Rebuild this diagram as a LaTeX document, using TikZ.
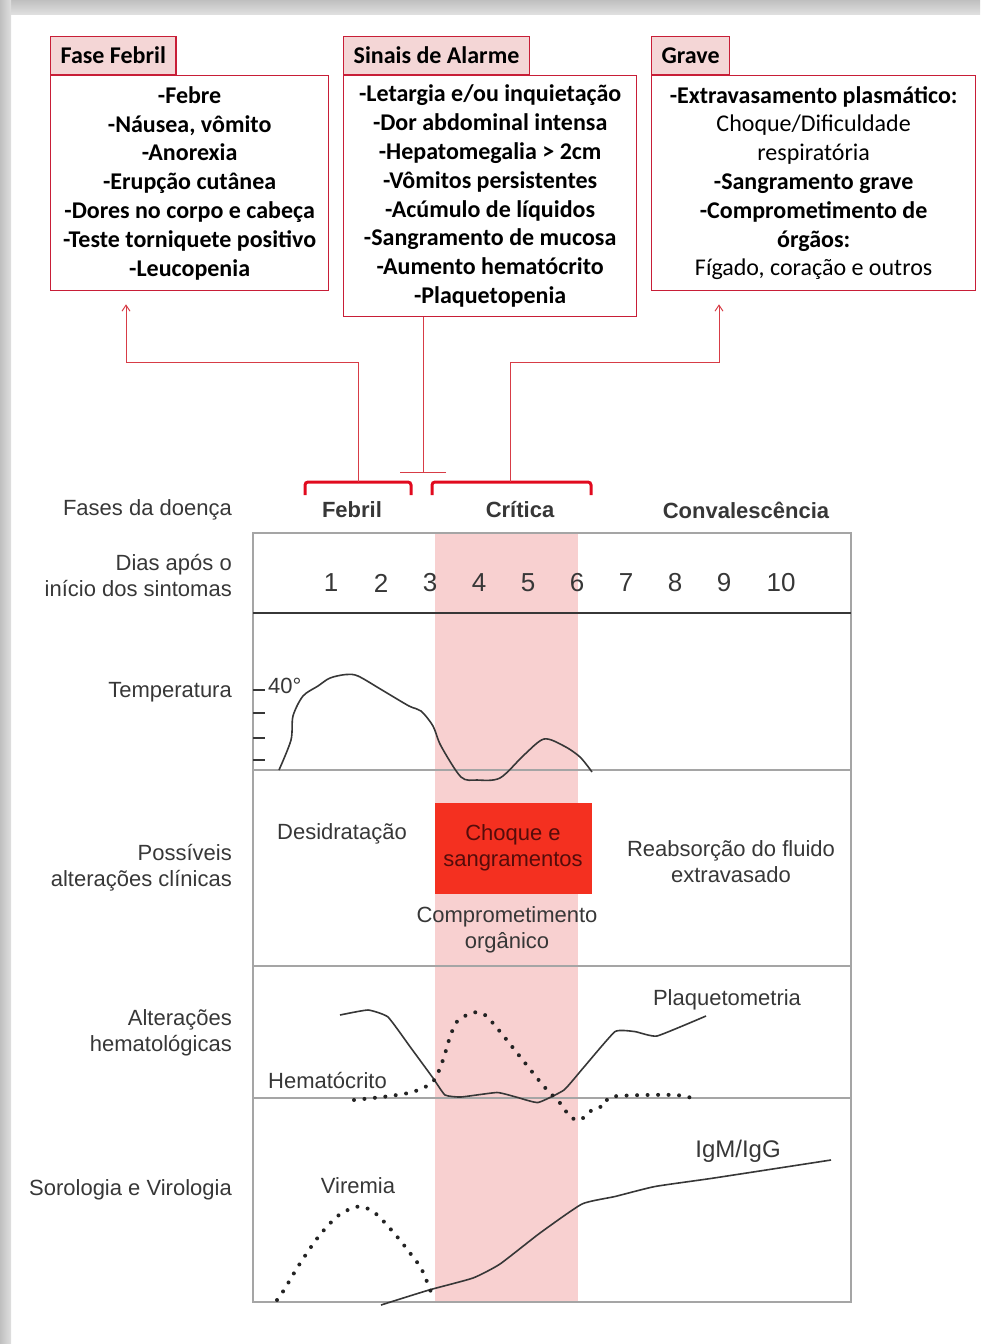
\documentclass[tikz,border=0pt]{standalone}
\usepackage{fontspec}
\setmainfont{Liberation Sans}
\newfontfamily\boxfont{Carlito}
\usetikzlibrary{arrows.meta, positioning, calc}

\definecolor{boxred}{RGB}{200,30,55}
\definecolor{headpink}{RGB}{244,214,214}
\definecolor{linkred}{RGB}{215,60,70}
\definecolor{bracketred}{RGB}{225,10,30}
\definecolor{bandpink}{RGB}{248,208,208}
\definecolor{shockred}{RGB}{244,48,32}
\definecolor{shocktext}{RGB}{85,12,10}
\definecolor{gridgray}{RGB}{165,165,165}
\definecolor{inkgray}{RGB}{55,55,55}
\definecolor{dotgray}{RGB}{35,35,35}

\begin{document}
\begin{tikzpicture}[x=1pt, y=-1pt,
    head/.style={draw=boxred, line width=1.3pt, fill=headpink, anchor=south west, minimum height=38pt, inner xsep=10pt, font=\boxfont\bfseries\fontsize{24}{28}\selectfont},
    body/.style={draw=boxred, line width=1.3pt, anchor=north west, align=center, inner sep=0pt, font=\boxfont\bfseries\fontsize{24}{28.8}\selectfont},
    link/.style={draw=linkred, line width=1pt},
    bracket/.style={draw=bracketred, line width=3pt, rounded corners=3pt},
    rowlab/.style={anchor=east, align=right, inner sep=0pt, text=inkgray, font=\fontsize{22}{26}\selectfont},
    phase/.style={text=inkgray, font=\bfseries\fontsize{22}{26}\selectfont},
    cell/.style={text=inkgray, align=center, inner sep=0pt, font=\fontsize{22}{26}\selectfont},
    day/.style={text=inkgray, font=\fontsize{26}{30}\selectfont},
    shock/.style={fill=shockred, text=shocktext, align=center, minimum width=157pt, minimum height=91pt, font=\fontsize{22}{26}\selectfont},
    grid/.style={draw=gridgray, line width=2pt},
    curve/.style={draw=inkgray, line width=1.6pt},
    dots/.style={draw=dotgray, line width=4pt, line cap=round, dash pattern=on 0pt off 10.5pt}]
    \useasboundingbox (0,0) rectangle (980,1344);
    \shade[top color=gray!50, bottom color=gray!25] (0,0) rectangle (980,14);
    \shade[left color=gray!50, right color=gray!25] (0,0) rectangle (11,1344);

    % boxes on top
    \node[body, minimum width=278pt, minimum height=215pt] (febre) at (50,75) {-Febre\\-Náusea, vômito\\-Anorexia\\-Erupção cutânea\\-Dores no corpo e cabeça\\-Teste torniquete positivo\\-Leucopenia};
    \node[head] (febreHead) at (febre.north west) {Fase Febril};

    \node[body, minimum width=293pt, minimum height=241pt] (alarme) at (343,75) {-Letargia e/ou inquietação\\-Dor abdominal intensa\\-Hepatomegalia > 2cm\\-Vômitos persistentes\\-Acúmulo de líquidos\\-Sangramento de mucosa\\-Aumento hematócrito\\-Plaquetopenia};
    \node[head] (alarmeHead) at (alarme.north west) {Sinais de Alarme};

    \node[body, minimum width=324pt, minimum height=215pt] (grave) at (651,75) {-Extravasamento plasmático:\\{\mdseries Choque/Dificuldade}\\{\mdseries respiratória}\\-Sangramento grave\\-Comprometimento de\\órgãos:\\{\mdseries Fígado, coração e outros}};
    \node[head] (graveHead) at (grave.north west) {Grave};

    % phase brackets
    \draw[bracket] (305,495) -- (305,482) -- (411,482) -- (411,495);
    \draw[bracket] (432,495) -- (432,482) -- (591,482) -- (591,495);
    \coordinate (febrilTop) at (358,482);
    \coordinate (criticaTop) at (510,482);
    \coordinate (alarmeEnd) at (423,473);

    \draw[link, -{Straight Barb[length=6pt,width=8pt]}, shorten >=13pt] (febrilTop) -- ++(0,-120) -| (febre.south -| 126,0);
    \draw[link, -{Straight Barb[length=6pt,width=8pt]}, shorten >=13pt] (criticaTop) -- ++(0,-120) -| (grave.south -| 719,0);
    \draw[link, -{Bar[width=46pt]}] (alarme.south -| alarmeEnd) -- (alarmeEnd);

    % table
    \fill[bandpink] (435,533) rectangle (578,1302);
    \draw[grid] (253,533) rectangle (851,1302);
    \draw[grid] (253,770) -- (851,770);
    \draw[grid] (253,966) -- (851,966);
    \draw[grid] (253,1098) -- (851,1098);
    \draw[draw=inkgray, line width=2.5pt] (253,613) -- (851,613);

    \node[rowlab] (fasesLab) at (232,510) {Fases da doença};
    \node[phase] (febrilLab) at (352,510) {Febril};
    \node[phase] (criticaLab) at (520,510) {Crítica};
    \node[phase] (convLab) at (746,510) {Convalescência};

    \node[rowlab] (diasLab) at (232,575) {Dias após o\\início dos sintomas};
    \foreach \d/\x in {1/331,2/381,3/430,4/479,5/528,6/577,7/626,8/675,9/724,10/781}
        \node[day] (day\d) at (\x,583) {\d};

    % temperatura
    \node[rowlab] (tempLab) at (232,692) {Temperatura};
    \foreach \t in {690,713,738,760}
        \draw[curve] (253,\t) -- (265,\t);
    \node[cell, anchor=west] (t40) at (268,686) {40°};
    \draw[curve] plot[smooth, tension=0.5] coordinates {(279,770) (291,740) (293,716) (303,696) (318,686) (330,678) (346,674.5) (358,676) (382,690) (409,706) (421,711) (433,726) (441,746) (461,777) (477,780) (500,778) (524,755) (544,739) (564,746) (580,757) (592,772)};

    % alteracoes clinicas
    \node[rowlab] (clinLab) at (232,868) {Possíveis\\alterações clínicas};
    \node[cell] (desid) at (342,834) {Desidratação};
    \node[shock] (choque) at (513,848) {Choque e\\sangramentos};
    \node[cell] (orgao) at (507,930) {Comprometimento\\orgânico};
    \node[cell] (reabs) at (731,862) {Reabsorção do fluido\\extravasado};

    % hematologia
    \node[rowlab] (hemLab) at (232,1033) {Alterações\\hematológicas};
    \draw[curve] plot[smooth, tension=0.25] coordinates {(340,1015) (368,1010) (388,1017) (411,1048) (433,1078) (445,1095) (461,1097) (497,1092.5) (516,1097) (538,1102.5) (564,1090) (584,1067) (615,1031.6) (635,1031.6) (657,1036) (706,1016)};
    \draw[dots] plot[smooth, tension=0.5] coordinates {(354,1100) (390,1096) (414,1091.5) (433,1081.6) (443,1060) (449,1040) (457,1021.6) (473,1012.6) (485,1015) (500,1031.6) (520,1056.6) (544,1086.5) (560,1103) (570,1116.5) (580,1120) (592,1110) (605,1105) (613,1096.5) (675,1095) (698,1100)};
    \node[cell, anchor=west] (hemaLab) at (268,1080) {Hematócrito};
    \node[cell] (plaqLab) at (727,1000) {Plaquetometria};

    % sorologia
    \node[rowlab] (seroLab) at (232,1190) {Sorologia e Virologia};
    \draw[curve] plot[smooth, tension=0.3] coordinates {(381,1305) (429,1290) (473,1278) (500,1264) (540,1233) (582,1204) (615,1196.5) (655,1186.5) (714,1178) (831,1160)};
    \draw[dots] plot[smooth, tension=0.5] coordinates {(277,1300) (284,1290) (299,1265) (319,1236) (339,1215) (359,1206.5) (375,1213) (394,1233) (410,1253) (422,1270) (434,1300)};
    \node[cell, font=\fontsize{24}{28}\selectfont] (igLab) at (738,1151) {IgM/IgG};
    \node[cell] (viremiaLab) at (358,1186) {Viremia};
\end{tikzpicture}
\end{document}
